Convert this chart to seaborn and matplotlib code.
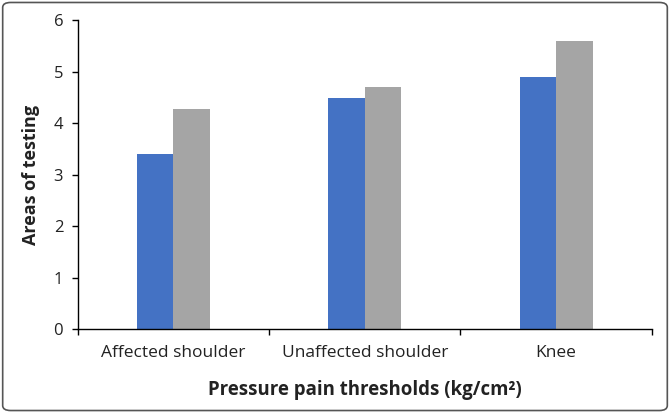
import matplotlib
matplotlib.use("Agg")
import matplotlib.pyplot as plt
import pandas as pd
import seaborn as sns
from matplotlib.patches import FancyBboxPatch
from matplotlib.ticker import FixedLocator

CATEGORIES = ["Affected shoulder", "Unaffected shoulder", "Knee"]
SERIES = ["Series 1", "Series 2"]
SERIES1 = [3.40, 4.49, 4.90]
SERIES2 = [4.28, 4.70, 5.60]
COLORS = ["#4472C4", "#A5A5A5"]

sns.set_style("white")
plt.rcParams["font.family"] = ["Open Sans", "DejaVu Sans"]

df = pd.DataFrame({
    "area": CATEGORIES * 2,
    "series": [SERIES[0]] * 3 + [SERIES[1]] * 3,
    "value": SERIES1 + SERIES2,
})

fig = plt.figure(figsize=(6.70, 4.13), dpi=100)
ax = fig.add_axes([0.1157, 0.2027, 0.8573, 0.7483])

sns.barplot(data=df, x="area", y="value", hue="series", order=CATEGORIES,
            hue_order=SERIES, palette=COLORS, width=0.38, gap=0,
            saturation=1, legend=False, ax=ax, edgecolor="none")

ax.set_xlim(-0.5, 2.5)
ax.set_ylim(0, 6)
ax.set_yticks(range(7))

# boundary ticks, labels centred on categories
ax.xaxis.set_major_locator(FixedLocator([-0.5, 0.5, 1.5, 2.5]))
ax.set_xticklabels([])
ax.xaxis.set_minor_locator(FixedLocator([0, 1, 2]))
ax.set_xticklabels(CATEGORIES, minor=True)
ax.tick_params(axis="x", which="major", direction="out", length=4.3,
               width=1, color="#000000", bottom=True)
ax.tick_params(axis="x", which="minor", length=0, pad=11,
               labelsize=12.5, labelcolor="#222222")
ax.tick_params(axis="y", direction="out", length=4.3, width=1,
               color="#000000", left=True, labelsize=12,
               labelcolor="#222222", pad=6)

for side in ["top", "right"]:
    ax.spines[side].set_visible(False)
for side in ["left", "bottom"]:
    ax.spines[side].set_color("#000000")
    ax.spines[side].set_linewidth(1)

ax.set_xlabel("Pressure pain thresholds (kg/cm²)", fontsize=13.4,
              fontweight="bold", color="#222222", labelpad=14)
ax.set_ylabel("Areas of testing", fontsize=13, fontweight="bold",
              color="#222222", labelpad=10)

frame = FancyBboxPatch((0.004, 0.006), 0.992, 0.988,
                       boxstyle="round,pad=0,rounding_size=0.012",
                       transform=fig.transFigure, fill=False,
                       edgecolor="#555555", linewidth=1.2)
fig.patches.append(frame)

fig.savefig("out.png", dpi=100)
